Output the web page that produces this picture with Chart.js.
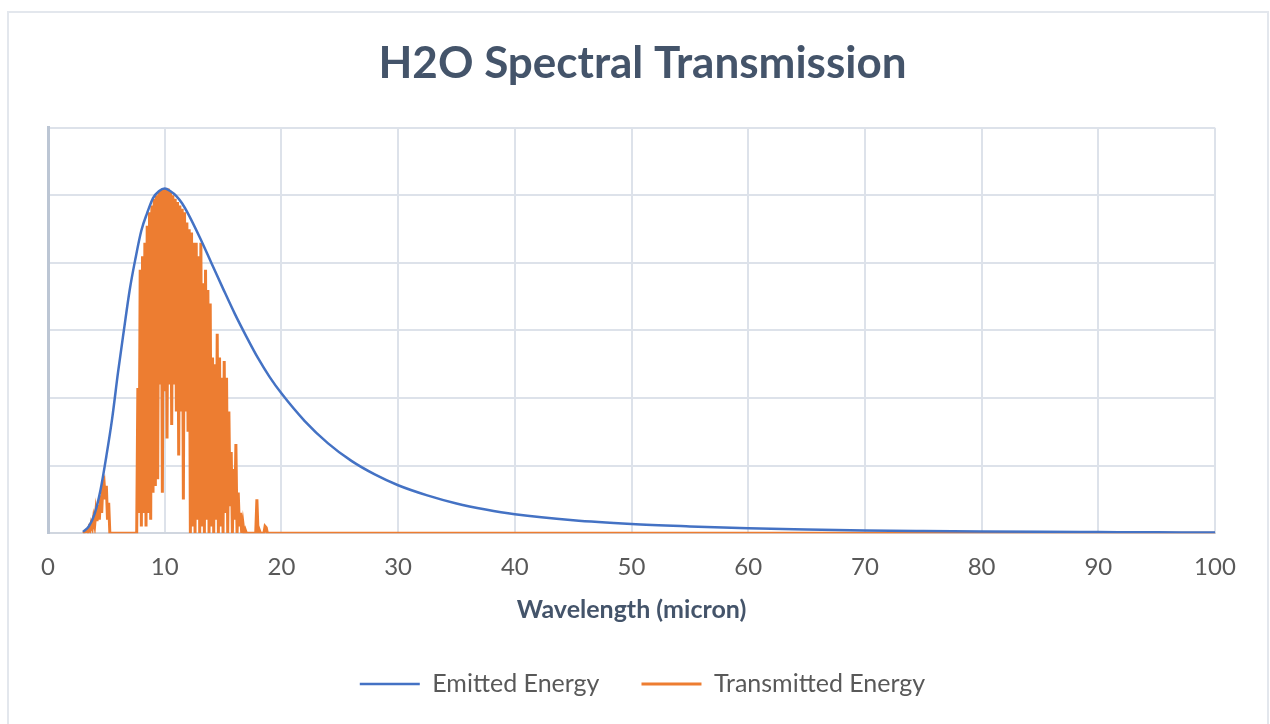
<!DOCTYPE html>
<html>
<head>
<meta charset="utf-8">
<title>H2O Spectral Transmission</title>
<script src="https://cdn.jsdelivr.net/npm/chart.js@4.4.1/dist/chart.umd.min.js"></script>
<style>
  html, body { margin: 0; padding: 0; background: #fff; }
  #wrap { width: 1270px; height: 724px; }
</style>
</head>
<body>
<div id="wrap"><canvas id="myChart" width="1270" height="724"></canvas></div>
<script>
"use strict";

// emitted energy (blackbody curve)
const emitWavelength = [
  3, 3.5, 4, 4.5, 5, 5.5, 6, 6.5, 7, 7.5, 8, 8.5, 9, 9.5, 10, 10.5, 11, 11.5, 12,
  13, 14, 15, 16, 17, 18, 19, 20, 22, 24, 26, 28, 30, 32.5, 35, 37.5, 40,
  45, 50, 55, 60, 65, 70, 75, 80, 85, 90, 95, 100,
];
const emitEnergy = [
  0.02, 0.1, 0.29, 0.64, 1.14, 1.7, 2.38, 3.0, 3.6, 4.07, 4.48, 4.74, 4.96, 5.06, 5.1, 5.06, 4.99, 4.88, 4.73,
  4.38, 4.0, 3.62, 3.25, 2.91, 2.59, 2.31, 2.07, 1.66, 1.33, 1.07, 0.87, 0.71, 0.56, 0.44, 0.35, 0.28,
  0.19, 0.135, 0.1, 0.072, 0.055, 0.041, 0.032, 0.025, 0.02, 0.016, 0.013, 0.011,
];

// transmitted energy, sampled every 0.1 micron from 3.0 to 19.0, then flat to 100
const transWavelength = [
  3.0, 3.1, 3.2, 3.3, 3.4, 3.5, 3.6, 3.7, 3.8, 3.9,
  4.0, 4.1, 4.2, 4.3, 4.4, 4.5, 4.6, 4.7, 4.8, 4.9,
  5.0, 5.1, 5.2, 5.3, 5.4, 7.5, 7.6, 7.7, 7.8, 7.9,
  8.0, 8.1, 8.2, 8.3, 8.4, 8.5, 8.6, 8.7, 8.8, 8.9,
  9.0, 9.1, 9.2, 9.3, 9.4, 9.5, 9.6, 9.7, 9.8, 9.9,
  10.0, 10.1, 10.2, 10.3, 10.4, 10.5, 10.6, 10.7, 10.8, 10.9,
  11.0, 11.1, 11.2, 11.3, 11.4, 11.5, 11.6, 11.7, 11.8, 11.9,
  12.0, 12.1, 12.2, 12.3, 12.4, 12.5, 12.6, 12.7, 12.8, 12.9,
  13.0, 13.1, 13.2, 13.3, 13.4, 13.5, 13.6, 13.7, 13.8, 13.9,
  14.0, 14.1, 14.2, 14.3, 14.4, 14.5, 14.6, 14.7, 14.8, 14.9,
  15.0, 15.1, 15.2, 15.3, 15.4, 15.5, 15.6, 15.7, 15.8, 15.9,
  16.0, 16.1, 16.2, 16.3, 16.4, 16.5, 16.6, 16.7, 16.8, 16.9,
  17.0, 17.8, 17.9, 18.0, 18.1, 18.2, 18.5, 18.6, 18.7, 18.8,
  19.0, 100,
];
const transEnergy = [
  0, 0.01, 0.02, 0.04, 0.02, 0.08, 0.04, 0.14, 0.08, 0.22,
  0.12, 0.32, 0.18, 0.42, 0.2, 0.56, 0.3, 0.72, 0.77, 0.5,
  0.7, 0.2, 0.45, 0, 0, 0, 0, 2.15, 0.3, 3.9,
  0.1, 4.1, 0.3, 4.3, 0.1, 4.55, 0.3, 4.75, 0.2, 4.85,
  0.6, 4.95, 0.7, 5.0, 0.8, 5.05, 2.2, 5.08, 0.6, 5.1,
  2.1, 5.1, 1.4, 5.1, 2.2, 5.05, 1.6, 5.0, 2.2, 4.95,
  1.8, 4.9, 1.15, 4.85, 1.8, 4.8, 0.5, 4.75, 1.8, 4.6,
  1.5, 4.5, 0, 4.45, 0.1, 4.3, 0, 4.3, 0.2, 4.1,
  0, 4.3, 0.1, 3.7, 0, 3.9, 0.2, 3.6, 0, 3.4,
  0.1, 2.6, 0, 2.5, 0.2, 2.95, 0, 2.6, 0.1, 2.3,
  0, 2.55, 0.3, 2.3, 0, 1.8, 0.4, 1.2, 0, 0.95,
  0.2, 1.32, 0, 0.6, 0.1, 0.3, 0, 0.15, 0, 0.05,
  0, 0, 0.5, 0, 0.05, 0, 0, 0.1, 0.08, 0,
  0, 0,
];

const xTicks = [0, 10, 20, 30, 40, 50, 60, 70, 80, 90, 100];

const toPoints = (xs, ys) => xs.map((x, i) => ({ x: x, y: ys[i] }));

Chart.defaults.font.family = "Lato, 'Open Sans', sans-serif";

// light frame around the whole chart
const frame = {
  id: "frame",
  beforeDraw(chart) {
    const c = chart.ctx;
    c.save();
    c.fillStyle = "#ffffff";
    c.fillRect(0, 0, chart.width, chart.height);
    c.strokeStyle = "#e3e7ed";
    c.lineWidth = 2;
    c.strokeRect(8, 12, 1260, 740);
    c.restore();
  },
};

const ctx = document.getElementById("myChart").getContext("2d");
const myChart = new Chart(ctx, {
  type: "line",
  data: {
    datasets: [
      {
        label: "Emitted Energy",
        data: toPoints(emitWavelength, emitEnergy),
        borderColor: "#4472C4",
        backgroundColor: "#4472C4",
        borderWidth: 2.5,
        pointRadius: 0,
        pointStyle: "line",
        cubicInterpolationMode: "monotone",
        order: 0,
      },
      {
        label: "Transmitted Energy",
        data: toPoints(transWavelength, transEnergy),
        borderColor: "#ED7D31",
        backgroundColor: "#ED7D31",
        borderWidth: 3,
        pointRadius: 0,
        pointStyle: "line",
        tension: 0,
        order: 1,
      },
    ],
  },
  options: {
    responsive: false,
    animation: false,
    devicePixelRatio: 1,
    layout: {
      padding: { top: 18, left: 48, right: 33, bottom: 17.5 },
    },
    scales: {
      x: {
        type: "linear",
        min: 0,
        max: 100,
        afterBuildTicks: (axis) => {
          axis.ticks = xTicks.map((v) => ({ value: v }));
        },
        ticks: {
          padding: 20,
          color: "#595959",
          font: { size: 24 },
          maxRotation: 0,
        },
        grid: {
          color: "#dde2ea",
          lineWidth: 2,
          drawTicks: false,
        },
        border: { color: "#d0d6df", width: 2 },
        title: {
          display: true,
          text: "Wavelength (micron)",
          color: "#44546A",
          font: { size: 25, weight: "bold" },
          padding: { top: -7, bottom: 4.5 },
        },
        afterFit: (axis) => {
          axis.paddingRight = 0;
        },
      },
      y: {
        min: 0,
        max: 6,
        ticks: { display: false, stepSize: 1 },
        grid: {
          color: "#dde2ea",
          lineWidth: 2,
          drawTicks: false,
        },
        border: { color: "#bcc6d4", width: 3 },
      },
      // empty right-hand spacer so the legend centres like the original
      spacer: {
        type: "linear",
        position: "right",
        min: 0,
        max: 6,
        ticks: { display: false },
        grid: { drawOnChartArea: false, drawTicks: false },
        border: { display: false },
        afterFit: (axis) => {
          axis.width = 22;
        },
      },
    },
    plugins: {
      title: {
        display: true,
        text: "H2O Spectral Transmission",
        color: "#44546A",
        font: { size: 44, weight: "bold" },
        padding: { top: 19, bottom: 38 },
      },
      legend: {
        position: "bottom",
        labels: {
          usePointStyle: true,
          pointStyleWidth: 60,
          padding: 42,
          color: "#595959",
          font: { size: 25 },
        },
      },
      tooltip: { enabled: false },
    },
  },
  plugins: [frame],
});
</script>
</body>
</html>
